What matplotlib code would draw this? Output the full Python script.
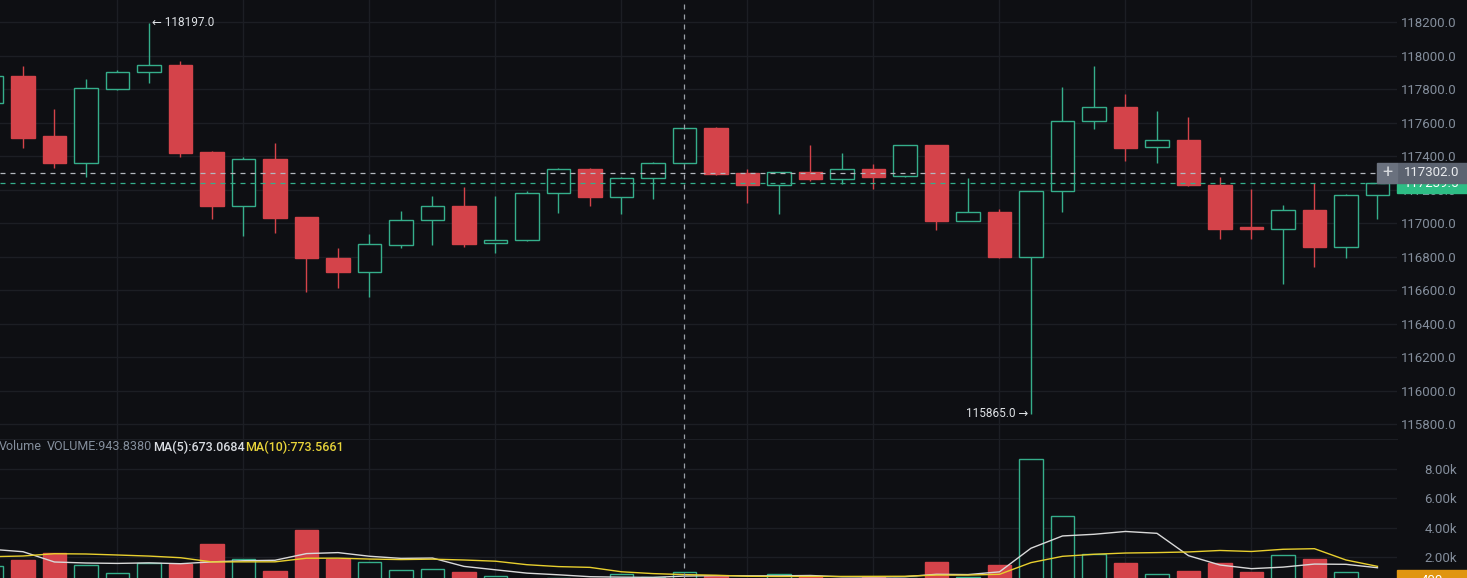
import matplotlib
matplotlib.use('Agg')
import matplotlib.pyplot as plt
import matplotlib.transforms as mtransforms
from matplotlib.patches import Rectangle
import numpy as np
import pandas as pd

# candles (index 0 is the one cut at the left edge)
opens = [117719, 117881, 117520, 117363, 117805, 117904, 117946, 117427, 117106, 117385,
         117037, 116796, 116712, 116870, 117020, 117105, 116882, 116900, 117180, 117325,
         117160, 117270, 117359, 117570, 117300, 117228, 117306, 117267, 117324, 117282,
         117467, 117017, 117069, 116802, 117192, 117610, 117696, 117455, 117499, 117228,
         116981, 116969, 117081, 116862, 117168]
highs = [117890, 117940, 117682, 117864, 117915, 118197, 117970, 117430, 117395, 117479,
         117040, 116852, 116936, 117075, 117164, 117220, 117164, 117192, 117331, 117330,
         117276, 117367, 117572, 117576, 117324, 117310, 117467, 117419, 117355, 117470,
         117470, 117273, 117085, 117196, 117813, 117942, 117773, 117673, 117634, 117279,
         117204, 117109, 117244, 117176, 117240]
lows = [117700, 117453, 117330, 117280, 117795, 117841, 117399, 117027, 116927, 116941,
        116593, 116613, 116563, 116852, 116872, 116858, 116822, 116895, 117065, 117106,
        117057, 117148, 117352, 117292, 117121, 117057, 117254, 117234, 117204, 117278,
        116961, 117012, 116792, 115865, 117071, 117566, 117375, 117359, 117225, 116909,
        116906, 116639, 116742, 116792, 117025]
closes = [117881, 117512, 117363, 117807, 117904, 117944, 117421, 117106, 117383, 117035,
          116792, 116712, 116876, 117021, 117103, 116880, 116901, 117180, 117324, 117160,
          117270, 117359, 117568, 117297, 117228, 117306, 117267, 117324, 117280, 117467,
          117017, 117069, 116802, 117192, 117610, 117694, 117453, 117497, 117228, 116967,
          116966, 117079, 116862, 117168, 117239.5]
volumes = [1363, 1774, 2253, 1432, 884, 1548, 1479, 2890, 1822, 1041,
           3829, 1822, 1637, 1089, 1158, 973, 658, 492.319, 520, 506,
           815, 580.504, 943.838, 658, 450, 815, 700, 500, 580, 560,
           1637, 600, 1432, 8671, 4767, 2205, 1568, 795, 1021, 1568,
           952, 2096, 1842, 932, 400]
# bars left of the visible window, only needed for the moving averages
earlier_volumes = [1294, 683, 1632, 1574, 2282, 2599, 5778, 1777, 1018]

price_ticks = [115800, 116000, 116200, 116400, 116600, 116800, 117000,
               117200, 117400, 117600, 117800, 118000, 118200]
volume_ticks = [2000, 4000, 6000, 8000]
volume_tick_labels = ['2.00k', '4.00k', '6.00k', '8.00k']

hover_idx = 22
hover_price = 117302.0
last_price = 117239.5
high_mark = (5, 118197.0)
low_mark = (33, 115865.0)

plt.rcParams['font.family'] = ['Roboto', 'DejaVu Sans']

BG = '#0e0f13'
GRID = '#1c1e24'
UP = '#35ae8b'
DOWN = '#d4434a'
AXIS_TXT = '#848e9c'

W, H = 1467, 578
fig = plt.figure(figsize=(W / 100, H / 100), dpi=100, facecolor=BG)
ax = fig.add_axes([0, (H - 439) / H, 1397 / W, 439 / H])
axv = fig.add_axes([0, 0, 1397 / W, (H - 439) / H], sharex=ax)

o = np.array(opens, float)
h = np.array(highs, float)
l = np.array(lows, float)
c = np.array(closes, float)
v = np.array(volumes, float)
x = np.arange(len(o))
up = c >= o
col = np.where(up, UP, DOWN)
face = np.where(up, BG, DOWN)
body_lo = np.minimum(o, c)
body_hi = np.maximum(o, c)

for a in (ax, axv):
    a.set_facecolor(BG)
    for s in a.spines.values():
        s.set_visible(False)
    a.set_xticks(range(4, 44, 4))
    a.tick_params(axis='x', length=0, labelbottom=False)
    a.grid(True, color=GRID, lw=1)
    a.set_axisbelow(True)
    a.yaxis.tick_right()
    a.tick_params(axis='y', length=0, pad=43, labelcolor=AXIS_TXT, labelsize=9.5)

axv.spines['top'].set_visible(True)
axv.spines['top'].set_color(GRID)

# candles
ax.vlines(x, l, body_lo, colors=col, lw=1, zorder=2)
ax.vlines(x, body_hi, h, colors=col, lw=1, zorder=2)
ax.bar(x, body_hi - body_lo, bottom=body_lo, width=0.76, color=face,
       edgecolor=col, linewidth=1, zorder=3)

ax.set_xlim(0.27, 44.62)
ax.set_ylim(115713, 118334)
ax.set_yticks(price_ticks)
ax.set_yticklabels([f'{p:.1f}' for p in price_ticks])
for lbl in ax.get_yticklabels():
    lbl.set_horizontalalignment('right')

# volume + moving averages
axv.bar(x, v, width=0.76, color=face, edgecolor=col, linewidth=1, zorder=2)
vol_all = pd.Series(earlier_volumes + volumes, dtype=float)
ma5 = vol_all.rolling(5).mean().to_numpy()[-len(v):]
ma10 = vol_all.rolling(10).mean().to_numpy()[-len(v):]
axv.plot(x, ma5, color='#d9d9d9', lw=1, zorder=3)
axv.plot(x, ma10, color='#e8cf2e', lw=1, zorder=3)
axv.set_ylim(541, 10062)
axv.set_yticks(volume_ticks)
axv.set_yticklabels(volume_tick_labels)
for lbl in axv.get_yticklabels():
    lbl.set_horizontalalignment('right')

# crosshair and price lines
for a in (ax, axv):
    a.axvline(hover_idx, color='#9aa0a8', lw=0.9, ls=(0, (4, 4)), zorder=4)
ax.axhline(hover_price, color='#b3b7bd', lw=0.9, ls=(0, (4, 4)), zorder=4)
ax.axhline(last_price, color=UP, lw=0.9, ls=(0, (4, 4)), zorder=4)

# high / low markers
ax.annotate(f'\u2190 {high_mark[1]:.1f}', xy=high_mark, xytext=(2, 0),
            textcoords='offset points', ha='left', va='center',
            color='#dfe2e6', fontsize=8.5, zorder=5)
ax.annotate(f'{low_mark[1]:.1f} \u2192', xy=low_mark, xytext=(-2, 0),
            textcoords='offset points', ha='right', va='center',
            color='#dfe2e6', fontsize=8.5, zorder=5)

# price labels on the right axis
tp = mtransforms.blended_transform_factory(fig.transFigure, ax.transData)
half = 10 * (118334 - 115713) / 439
x0 = 1397 / W
fig.add_artist(Rectangle((x0, last_price - half), 1 - x0, 2 * half, transform=tp,
                         color='#2ebd85', zorder=5))
fig.text(1432 / W, last_price, f'{last_price:.1f}', transform=tp, ha='center',
         va='center', color='white', fontsize=9.5, zorder=6)
fig.add_artist(Rectangle((x0, hover_price - half), 1 - x0, 2 * half, transform=tp,
                         color='#5c6370', zorder=7))
fig.add_artist(Rectangle((1377 / W, hover_price - half), 20 / W, 2 * half, transform=tp,
                         color='#6a717e', zorder=7))
fig.text(1387 / W, hover_price, '+', transform=tp, ha='center', va='center',
         color='#d5d8dc', fontsize=13, zorder=8)
fig.text(1432 / W, hover_price, f'{hover_price:.1f}', transform=tp, ha='center',
         va='center', color='#eaecef', fontsize=9.5, zorder=8)

tv = mtransforms.blended_transform_factory(fig.transFigure, axv.transData)
vhalf = 10 * (10062 - 541) / 139
fig.add_artist(Rectangle((x0, v[-1] - vhalf), 1 - x0, 2 * vhalf, transform=tv,
                         color='#e0950f', zorder=5))
fig.text(1432 / W, v[-1], f'{v[-1]:.0f}', transform=tv, ha='center', va='center',
         color='white', fontsize=9.5, zorder=6)

# volume legend line
ly = 1 - 447 / H
fig.text(-1 / W, ly, 'Volume', color=AXIS_TXT, fontsize=9, va='center')
fig.text(47 / W, ly, f'VOLUME:{v[hover_idx]:.4f}', color=AXIS_TXT, fontsize=9, va='center')
fig.text(153 / W, ly, f'MA(5):{ma5[hover_idx]:.4f}', color='#d9dce1', fontsize=9,
         va='center', fontweight='medium')
fig.text(245 / W, ly, f'MA(10):{ma10[hover_idx]:.4f}', color='#e8d43a', fontsize=9,
         va='center', fontweight='medium')

fig.savefig('out.png', dpi=100, facecolor=BG)
